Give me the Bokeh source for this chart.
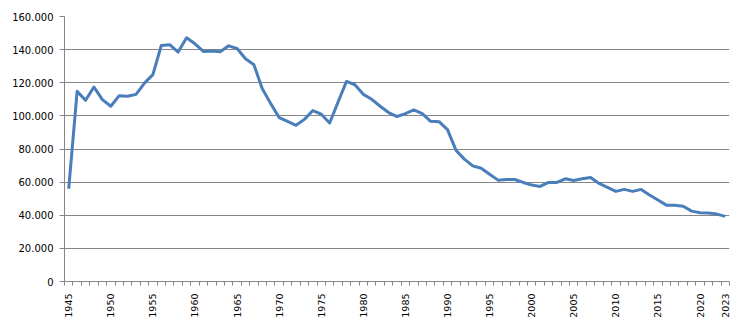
import math
from bokeh.plotting import figure
from bokeh.models import FixedTicker, Range1d
from bokeh.embed import file_html
from bokeh.resources import INLINE

years = list(range(1945, 2024))
values = [
    56000, 114800, 109400, 117400, 109800, 105800, 112200, 111800, 113000, 119800,
    124900, 142500, 143000, 138500, 147200, 143500, 138900, 139100, 138700, 142300,
    140700, 134500, 130900, 116400, 107400, 99000, 96700, 94300, 97900, 103200,
    101000, 95700, 108400, 120800, 118800, 113000, 110000, 105800, 102000, 99600,
    101400, 103600, 101400, 96700, 96500, 91700, 79300, 73900, 69800, 68400,
    64800, 61200, 61600, 61600, 59800, 58200, 57400, 59800, 59800, 62000,
    61000, 62000, 62800, 59200, 56800, 54400, 55600, 54400, 55600, 52200,
    49200, 46100, 46000, 45400, 42500, 41500, 41300, 40700, 39300,
]
x_labels = [1945, 1950, 1955, 1960, 1965, 1970, 1975, 1980, 1985, 1990,
            1995, 2000, 2005, 2010, 2015, 2020, 2023]
y_ticks = [0, 20000, 40000, 60000, 80000, 100000, 120000, 140000, 160000]

p = figure(width=730, height=320, output_backend="svg", toolbar_location=None,
           x_range=Range1d(years[0] - 0.5, years[-1] + 0.5),
           y_range=Range1d(0, 160000),
           min_border_left=64, min_border_right=1, min_border_top=16, min_border_bottom=38)
p.outline_line_color = None
p.background_fill_color = "white"
p.border_fill_color = "white"

p.line(years, values, line_color="#4a7ebb", line_width=3, line_join="round")

axis_col = "#868686"
font = "DejaVu Sans"

xa = p.xaxis[0]
xa.ticker = FixedTicker(ticks=x_labels,
                        minor_ticks=[years[0] - 0.5] + [y + 0.5 for y in years])
xa.major_label_orientation = math.pi / 2
xa.major_tick_out = 0
xa.major_tick_in = 0
xa.minor_tick_out = 4
xa.minor_tick_in = 0
xa.minor_tick_line_color = axis_col
xa.axis_line_color = axis_col
xa.major_label_text_font = font
xa.major_label_text_font_size = "9.5px"
xa.major_label_text_color = "#000000"
xa.major_label_standoff = 8

ya = p.yaxis[0]
ya.ticker = FixedTicker(ticks=y_ticks)
ya.major_label_overrides = {v: f"{v:,}".replace(",", ".") for v in y_ticks}
ya.major_tick_out = 5
ya.major_tick_in = 0
ya.minor_tick_out = 0
ya.minor_tick_in = 0
ya.major_tick_line_color = axis_col
ya.axis_line_color = axis_col
ya.major_label_text_font = font
ya.major_label_text_font_size = "10px"
ya.major_label_text_color = "#000000"
ya.major_label_standoff = 6

p.xgrid.grid_line_color = None
p.ygrid.grid_line_color = axis_col
p.ygrid.grid_line_width = 1

open("out.html", "w").write(file_html(p, INLINE))
